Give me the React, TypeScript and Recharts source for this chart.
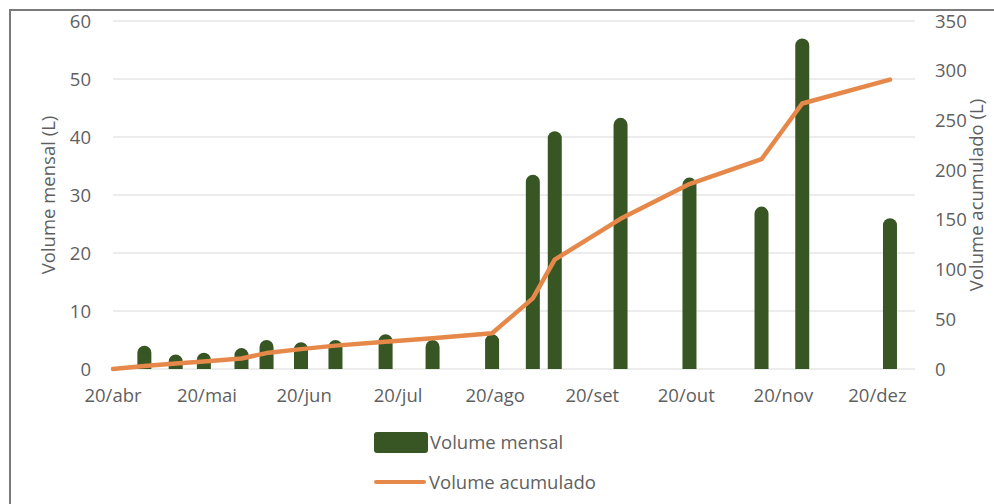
import { Bar, CartesianGrid, ComposedChart, Legend, Line, XAxis, YAxis } from 'recharts';

// Dates of each reading, monthly volume (L) and running total (L)
const startDate = '2021-04-20';
const readingDates = [
  '2021-04-20', '2021-04-30', '2021-05-10', '2021-05-19', '2021-05-31', '2021-06-08',
  '2021-06-19', '2021-06-30', '2021-07-16', '2021-07-31', '2021-08-19', '2021-09-01',
  '2021-09-08', '2021-09-29', '2021-10-21', '2021-11-13', '2021-11-26', '2021-12-24',
];
const volumeMensal = [null, 4, 2.5, 2.8, 3.6, 5, 4.6, 5, 6, 5, 6, 33.5, 41, 43.3, 33, 28, 57, 26];
const volumeAcumulado = [0, 3, 5.5, 7.5, 10.5, 16, 20, 23.5, 27.5, 31, 36, 71, 110, 151, 186, 211, 267, 291];

const tickDates = [
  '2021-04-20', '2021-05-20', '2021-06-20', '2021-07-20', '2021-08-20',
  '2021-09-20', '2021-10-20', '2021-11-20', '2021-12-20',
];
const monthNames = ['jan', 'fev', 'mar', 'abr', 'mai', 'jun', 'jul', 'ago', 'set', 'out', 'nov', 'dez'];
const axisEnd = '2022-01-01';

const leftTicks = [0, 10, 20, 30, 40, 50, 60];
const rightTicks = [0, 50, 100, 150, 200, 250, 300, 350];

const GREEN = '#375623';
const ORANGE = '#E6884A';
const TEXT = '#5f5f5f';
const FONT = '"Open Sans", sans-serif';
const FONT_SIZE = 18.5;

const toDay = (iso: string) => {
  const [y, m, d] = iso.split('-').map(Number);
  const [y0, m0, d0] = startDate.split('-').map(Number);
  return Math.round((Date.UTC(y, m - 1, d) - Date.UTC(y0, m0 - 1, d0)) / 86400000);
};

const dayLabel = (day: number) => {
  const [y0, m0, d0] = startDate.split('-').map(Number);
  const dt = new Date(Date.UTC(y0, m0 - 1, d0) + day * 86400000);
  return `${dt.getUTCDate()}/${monthNames[dt.getUTCMonth()]}`;
};

const data = readingDates.map((date, i) => ({
  day: toDay(date),
  mensal: volumeMensal[i],
  acumulado: volumeAcumulado[i],
}));

const tickStyle = { fill: TEXT, fontSize: FONT_SIZE, fontFamily: FONT };

function LegendBox() {
  return (
    <div style={{ fontFamily: FONT, fontSize: FONT_SIZE, color: TEXT, lineHeight: '20px' }}>
      <div style={{ display: 'flex', alignItems: 'center', height: 22 }}>
        <span style={{ width: 54, height: 21, background: GREEN, borderRadius: 3, marginRight: 2 }} />
        <span>Volume mensal</span>
      </div>
      <div style={{ display: 'flex', alignItems: 'center', height: 22, marginTop: 18 }}>
        <span style={{ width: 52, height: 4, background: ORANGE, borderRadius: 2, marginRight: 3 }} />
        <span>Volume acumulado</span>
      </div>
    </div>
  );
}

export default function App() {
  return (
    <div style={{ position: 'fixed', left: 0, top: 0, width: 994, height: 504, overflow: 'hidden', background: '#fff' }}>
      <div
        style={{
          position: 'absolute', left: 9, top: 9, width: 1000, height: 510,
          border: '2px solid #7a7a7a', boxSizing: 'border-box',
        }}
      />
      <div style={{ position: 'absolute', left: 0, top: 0 }}>
        <ComposedChart width={994} height={504} data={data} margin={{ top: 21, right: 0, bottom: 95, left: 0 }}>
          <CartesianGrid yAxisId="left" vertical={false} stroke="#d9d9d9" strokeWidth={1} />
          <XAxis
            dataKey="day"
            type="number"
            domain={[0, toDay(axisEnd)]}
            ticks={tickDates.map(toDay)}
            tickFormatter={dayLabel}
            axisLine={false}
            tickLine={false}
            tickSize={0}
            tickMargin={20}
            height={40}
            tick={tickStyle}
            interval={0}
          />
          <YAxis
            yAxisId="left"
            domain={[0, 60]}
            ticks={leftTicks}
            width={113}
            axisLine={false}
            tickLine={false}
            tickSize={0}
            tickMargin={22}
            tick={tickStyle}
            label={{
              value: 'Volume mensal (L)', angle: -90, position: 'insideLeft', offset: 48,
              style: { textAnchor: 'middle', fill: TEXT, fontSize: FONT_SIZE, fontFamily: FONT },
            }}
          />
          <YAxis
            yAxisId="right"
            orientation="right"
            domain={[0, 350]}
            ticks={rightTicks}
            width={79}
            axisLine={false}
            tickLine={false}
            tickSize={0}
            tickMargin={20}
            tick={{ ...tickStyle, textAnchor: 'start' }}
            label={{
              value: 'Volume acumulado (L)', angle: -90, position: 'insideRight', offset: 18,
              style: { textAnchor: 'middle', fill: TEXT, fontSize: FONT_SIZE, fontFamily: FONT },
            }}
          />
          <Legend
            layout="horizontal"
            verticalAlign="middle"
            align="center"
            wrapperStyle={{ left: 374, top: 431, width: 'auto', height: 'auto' }}
            content={() => <LegendBox />}
          />
          <Bar
            yAxisId="left"
            dataKey="mensal"
            name="Volume mensal"
            fill={GREEN}
            barSize={14}
            radius={[7, 7, 0, 0]}
            isAnimationActive={false}
          />
          <Line
            yAxisId="right"
            dataKey="acumulado"
            name="Volume acumulado"
            type="linear"
            stroke={ORANGE}
            strokeWidth={4.5}
            strokeLinejoin="round"
            strokeLinecap="round"
            dot={false}
            activeDot={false}
            isAnimationActive={false}
          />
        </ComposedChart>
      </div>
    </div>
  );
}
